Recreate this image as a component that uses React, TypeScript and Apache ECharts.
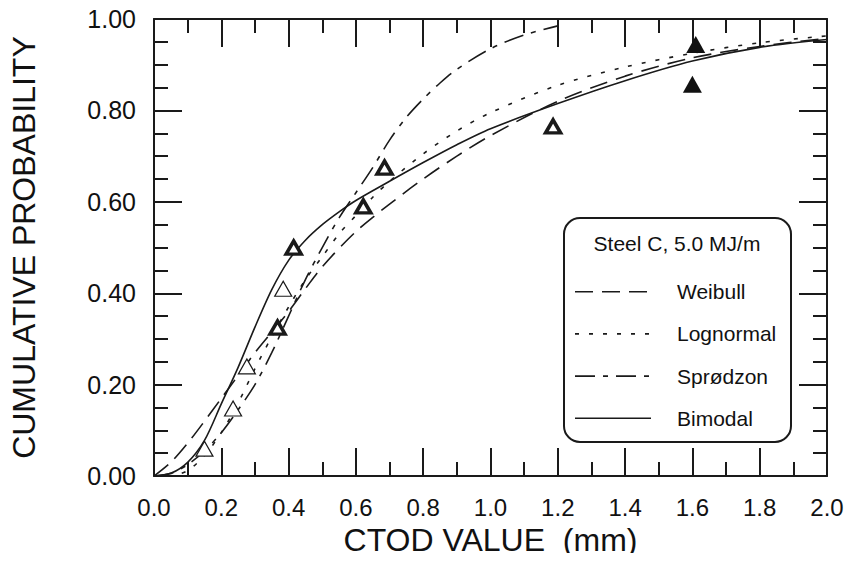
import React, { useEffect, useRef } from "react";
import * as echarts from "echarts";

// Curves (x = CTOD mm, y = cumulative probability)
const weibullX = [0, 0.05, 0.1, 0.15, 0.2, 0.25, 0.3, 0.35, 0.4, 0.45, 0.5, 0.6, 0.7, 0.8, 0.9, 1.0, 1.2, 1.4, 1.6, 1.8, 2.0];
const weibullY = [0, 0.03, 0.072, 0.12, 0.17, 0.22, 0.27, 0.315, 0.36, 0.41, 0.458, 0.535, 0.595, 0.65, 0.7, 0.745, 0.82, 0.875, 0.915, 0.94, 0.958];

const lognormalX = [0, 0.05, 0.1, 0.15, 0.2, 0.25, 0.3, 0.35, 0.4, 0.45, 0.5, 0.55, 0.6, 0.65, 0.7, 0.8, 0.9, 1.0, 1.2, 1.4, 1.6, 1.8, 2.0];
const lognormalY = [0, 0.001, 0.012, 0.045, 0.095, 0.16, 0.235, 0.305, 0.37, 0.43, 0.48, 0.53, 0.57, 0.61, 0.645, 0.705, 0.755, 0.795, 0.855, 0.895, 0.925, 0.948, 0.963];

const sprodzonX = [0, 0.05, 0.1, 0.15, 0.2, 0.25, 0.3, 0.35, 0.4, 0.45, 0.5, 0.55, 0.6, 0.65, 0.7, 0.75, 0.8, 0.85, 0.9, 1.0, 1.1, 1.2];
const sprodzonY = [0, 0.006, 0.025, 0.055, 0.095, 0.145, 0.2, 0.27, 0.35, 0.43, 0.5, 0.565, 0.62, 0.675, 0.735, 0.785, 0.825, 0.86, 0.89, 0.935, 0.965, 0.985];

const bimodalX = [0, 0.05, 0.1, 0.15, 0.2, 0.25, 0.3, 0.35, 0.4, 0.45, 0.5, 0.55, 0.6, 0.7, 0.8, 0.9, 1.0, 1.2, 1.4, 1.6, 1.8, 2.0];
const bimodalY = [0, 0.006, 0.03, 0.078, 0.158, 0.238, 0.326, 0.408, 0.472, 0.516, 0.55, 0.578, 0.603, 0.645, 0.686, 0.725, 0.76, 0.815, 0.865, 0.908, 0.938, 0.955];

// Test points (triangles)
const openX = [0.15, 0.235, 0.276, 0.384];
const openY = [0.06, 0.148, 0.24, 0.41];
const boldX = [0.367, 0.415, 0.622, 0.685, 1.186];
const boldY = [0.325, 0.5, 0.59, 0.675, 0.765];
const filledX = [1.6, 1.61];
const filledY = [0.857, 0.944];

const seriesNames = ["Weibull", "Lognormal", "Sprødzon", "Bimodal"];
const legendTitle = "Steel C, 5.0 MJ/m";
const xTitle = "CTOD VALUE  (mm)";
const yTitle = "CUMULATIVE PROBABILITY";

const zip = (xs: number[], ys: number[]) => xs.map((x, i) => [x, ys[i]]);

const INK = "#1a1a1a";
const FONT = "Liberation Sans";
const DASHES: any[] = [[18, 9], [4, 10], [20, 8, 5, 8], null];

export default function App() {
  const ref = useRef<HTMLDivElement>(null);
  useEffect(() => {
    if (!ref.current) return;
    const chart = echarts.init(ref.current, undefined, { renderer: "svg" });
    const tickStyle = { color: INK, width: 2 };
    const axisCommon = {
      min: 0,
      axisLine: { show: true, onZero: false, lineStyle: { color: INK, width: 2 } },
      splitLine: { show: false },
      axisTick: { show: true, inside: true, length: 28, lineStyle: tickStyle },
    };
    const lineSeries = (i: number, data: number[][]) => ({
      name: seriesNames[i],
      type: "line",
      data,
      symbol: "none",
      smooth: 0.3,
      lineStyle: { color: INK, width: 1.6, type: DASHES[i] ?? "solid" },
      itemStyle: { color: INK },
      z: 3,
    });
    const legendGraphics: any[] = [];
    seriesNames.forEach((name, i) => {
      const cy = 291.7 + i * 42.2;
      legendGraphics.push({
        type: "line",
        shape: { x1: 575, y1: cy, x2: 651, y2: cy },
        style: { stroke: INK, lineWidth: 1.6, lineDash: DASHES[i] ?? undefined },
        z: 5,
      });
      legendGraphics.push({
        type: "text",
        x: 677,
        y: cy,
        style: {
          text: name,
          fontSize: 21,
          fontFamily: FONT,
          fill: "#111",
          textAlign: "left",
          textVerticalAlign: "middle",
        },
        z: 5,
      });
    });
    chart.setOption({
      animation: false,
      backgroundColor: "#ffffff",
      grid: { left: 148, right: 25, top: 19, bottom: 84 },
      xAxis: [
        {
          ...axisCommon,
          type: "value",
          max: 2,
          interval: 0.2,
          position: "bottom",
          minorTick: { show: true, splitNumber: 2, length: 14, lineStyle: tickStyle },
          axisLabel: {
            margin: 19,
            color: "#111",
            fontSize: 24,
            fontFamily: FONT,
            formatter: (v: number) => v.toFixed(1),
          },
          name: xTitle,
          nameLocation: "middle",
          nameGap: 44,
          nameTextStyle: { fontSize: 32, color: "#111", fontFamily: FONT },
        },
        {
          ...axisCommon,
          type: "value",
          max: 2,
          interval: 0.2,
          position: "top",
          minorTick: { show: true, splitNumber: 2, length: 14, lineStyle: tickStyle },
          axisLabel: { show: false },
        },
      ],
      yAxis: [
        {
          ...axisCommon,
          type: "value",
          max: 1,
          interval: 0.2,
          position: "left",
          minorTick: { show: true, splitNumber: 4, length: 14, lineStyle: tickStyle },
          axisLabel: {
            margin: 18,
            color: "#111",
            fontSize: 25,
            fontFamily: FONT,
            formatter: (v: number) => v.toFixed(2),
          },
          name: yTitle,
          nameLocation: "middle",
          nameGap: 114,
          nameTextStyle: { fontSize: 32, color: "#111", fontFamily: FONT },
        },
        {
          ...axisCommon,
          type: "value",
          max: 1,
          interval: 0.2,
          position: "right",
          minorTick: { show: true, splitNumber: 4, length: 14, lineStyle: tickStyle },
          axisLabel: { show: false },
        },
      ],
      graphic: [
        {
          type: "rect",
          shape: { x: 564, y: 218, width: 227, height: 224, r: 16 },
          style: { fill: "#ffffff", stroke: INK, lineWidth: 2 },
          z: 4,
        },
        {
          type: "text",
          x: 677,
          y: 243,
          style: {
            text: legendTitle,
            fontSize: 21,
            fontFamily: FONT,
            fill: "#111",
            textAlign: "center",
            textVerticalAlign: "middle",
          },
          z: 5,
        },
        ...legendGraphics,
      ],
      series: [
        lineSeries(0, zip(weibullX, weibullY)),
        lineSeries(1, zip(lognormalX, lognormalY)),
        lineSeries(2, zip(sprodzonX, sprodzonY)),
        lineSeries(3, zip(bimodalX, bimodalY)),
        {
          name: "open",
          type: "scatter",
          data: zip(openX, openY),
          symbol: "triangle",
          symbolSize: [17, 15],
          itemStyle: { color: "#ffffff", borderColor: INK, borderWidth: 1.2, opacity: 1 },
          z: 4,
        },
        {
          name: "bold",
          type: "scatter",
          data: zip(boldX, boldY),
          symbol: "triangle",
          symbolSize: [15, 13],
          itemStyle: { color: "#ffffff", borderColor: INK, borderWidth: 3.5, opacity: 1 },
          z: 4,
        },
        {
          name: "filled",
          type: "scatter",
          data: zip(filledX, filledY),
          symbol: "triangle",
          symbolSize: [19, 17],
          itemStyle: { color: "#111111", opacity: 1 },
          z: 4,
        },
      ],
    });
    return () => chart.dispose();
  }, []);
  return <div ref={ref} style={{ width: 852, height: 561, margin: -8 }} />;
}
